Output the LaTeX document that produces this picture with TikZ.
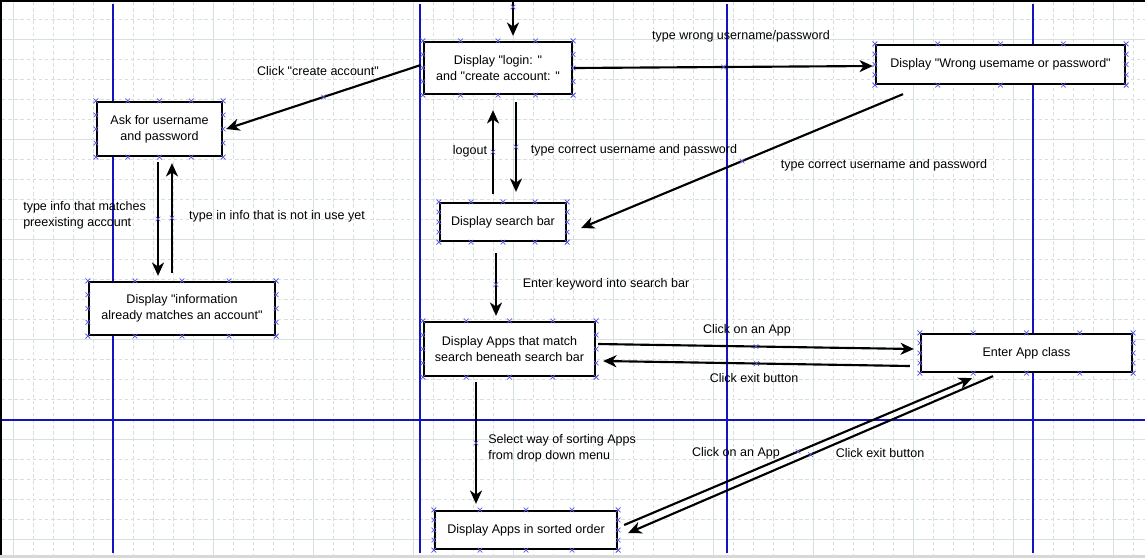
\documentclass[tikz,border=0pt]{standalone}
\usepackage{fontspec}
\setmainfont{Liberation Sans}[Ligatures=TeXOff]
\usetikzlibrary{positioning,arrows.meta,calc,shapes.misc}
\definecolor{gridline}{RGB}{214,224,224}
\definecolor{guide}{RGB}{20,20,190}
\definecolor{handle}{RGB}{90,90,225}
\definecolor{strip}{RGB}{216,216,216}

\begin{document}
\begin{tikzpicture}[x=0.75pt,y=-0.75pt,font=\fontsize{9.4}{11.8}\selectfont]
	\tikzstyle{box}=[draw,line width=1.7pt,fill=white,align=center,inner sep=0pt]
	\tikzstyle{arr}=[-{Stealth[length=10pt,width=9pt,inset=3pt]},line width=1.6pt]
	\tikzstyle{hnd}=[cross out,draw=handle,line width=0.5pt,minimum size=3pt,inner sep=0pt]
	\tikzstyle{lbl}=[inner sep=0pt,align=left]
	\useasboundingbox (0,0) rectangle (1145,558);
	\fill[white] (0,0) rectangle (1145,558);
		\foreach \gx in {13,33,...,1133} \draw[gridline,line width=0.7pt,dash pattern=on 2.6pt off 2pt] (\gx,2) -- (\gx,555);
		\foreach \gy in {19,39,...,539} \draw[gridline,line width=0.7pt,dash pattern=on 2.6pt off 2pt] (2,\gy) -- (1145,\gy);
		\foreach \gx in {13,113,...,1113} \draw[gridline,line width=0.7pt] (\gx,2) -- (\gx,555);
		\foreach \gy in {39,139,...,539} \draw[gridline,line width=0.7pt] (2,\gy) -- (1145,\gy);
		\foreach \gx in {113,420,727,1033} \draw[guide,line width=0.8pt] (\gx,4) -- (\gx,553);
		\draw[guide,line width=0.8pt] (2,420) -- (1145,420);
		\fill[strip] (0,555) rectangle (1145,558);
		\draw[line width=1.2pt] (0,0.8) -- (1145,0.8);
		\draw[line width=1.8pt] (1.2,0) -- (1.2,555);
	\node[box, minimum width=111pt, minimum height=39pt] (login) at (498,68) {Display "login: "\\and "create account: "};
	\node[box, minimum width=93.75pt, minimum height=40.5pt] (ask) at (159.5,129) {Ask for username\\and password};
	\node[box, minimum width=186.75pt, minimum height=29.25pt] (wrong) at (1000.5,64.5) {Display "Wrong usemame or password"};
	\node[box, minimum width=94.5pt, minimum height=28.5pt] (search) at (503,222) {Display search bar};
	\node[box, minimum width=139.5pt, minimum height=39.75pt] (info) at (182,308.5) {Display "information\\already matches an account"};
	\node[box, minimum width=128.25pt, minimum height=40.5pt] (match) at (509.5,349) {Display Apps that match\\search beneath search bar};
	\node[box, minimum width=158.25pt, minimum height=28.5pt] (app) at (1026.5,353) {Enter App class};
	\node[box, minimum width=136.5pt, minimum height=28.5pt] (sorted) at (526,530) {Display Apps in sorted order};
		\foreach \b in {login,ask,wrong,search,info,match,app,sorted}
			\foreach \t in {0,0.25,0.5,0.75,1} {
				\node[hnd] at ($(\b.north west)!\t!(\b.north east)$) {};
				\node[hnd] at ($(\b.south west)!\t!(\b.south east)$) {};
				\node[hnd] at ($(\b.north west)!\t!(\b.south west)$) {};
				\node[hnd] at ($(\b.north east)!\t!(\b.south east)$) {};
			}
	\coordinate (entry) at (513,1);
		\draw[arr] (entry) -- node[hnd, pos=0.17] {} ($(login.north)+(15,-5)$);
		\draw[arr] ($(login.west)+(-2,-3)$) -- node[hnd] {} ($(ask.east)+(3,0)$);
		\draw[arr] ($(login.east)+(1,0)$) -- node[hnd] {} ($(wrong.west)+(-2,1.5)$);
		\draw[arr] ($(wrong.south)+(-97.5,9)$) -- node[hnd] {} ($(search.east)+(14,6)$);
		\draw[arr] ($(login.south)+(18,7)$) -- node[hnd] {} ($(search.north)+(13,-10)$);
		\draw[arr] ($(search.north)+(-10,-8)$) -- node[hnd] {} ($(login.south)+(-5,15)$);
		\draw[arr] ($(ask.south)+(-1.5,5)$) -- node[hnd] {} ($(info.north)+(-24,-5)$);
		\draw[arr] ($(info.north)+(-10,-8)$) -- node[hnd] {} ($(ask.south)+(12.5,6)$);
		\draw[arr] ($(search.south)+(-7,11)$) -- node[hnd] {} ($(match.north)+(-13.5,-5)$);
		\draw[arr] ($(match.east)+(2,-5)$) -- node[hnd] {} ($(app.west)+(-6,-4)$);
		\draw[arr] ($(app.west)+(-10,13)$) -- node[hnd] {} ($(match.east)+(7,12)$);
		\draw[arr] ($(match.south)+(-33.5,5)$) -- node[hnd] {} ($(sorted.north)+(-50,-6)$);
		\draw[arr] ($(sorted.east)+(6,-5)$) -- node[hnd] {} ($(app.south)+(-54.5,5)$);
		\draw[arr] ($(app.south)+(-33.5,3)$) -- node[hnd] {} ($(sorted.east)+(10,3)$);
	\node[lbl] (lcreate) at (318,71) {Click "create account"};
	\node[lbl] (lwrong) at (741,36) {type wrong username/password};
	\node[lbl] (lcorrectb) at (884,165) {type correct username and password};
	\node[lbl] (lcorrecta) at (634,150) {type correct username and password};
	\node[lbl] (llogout) at (470,151) {logout};
	\node[lbl, anchor=west] (lmatches) at (23,215) {type info that matches\\preexisting account};
	\node[lbl] (lnotinuse) at (277,216) {type in info that is not in use yet};
	\node[lbl] (lkeyword) at (606,284) {Enter keyword into search bar};
	\node[lbl] (lclicka) at (747,330) {Click on an App};
	\node[lbl] (lexita) at (754,378) {Click exit button};
	\node[lbl, anchor=west] (lsort) at (488,448) {Select way of sorting Apps\\from drop down menu};
	\node[lbl] (lclickb) at (736,453) {Click on an App};
	\node[lbl] (lexitb) at (880,453) {Click exit button};
\end{tikzpicture}
\end{document}
